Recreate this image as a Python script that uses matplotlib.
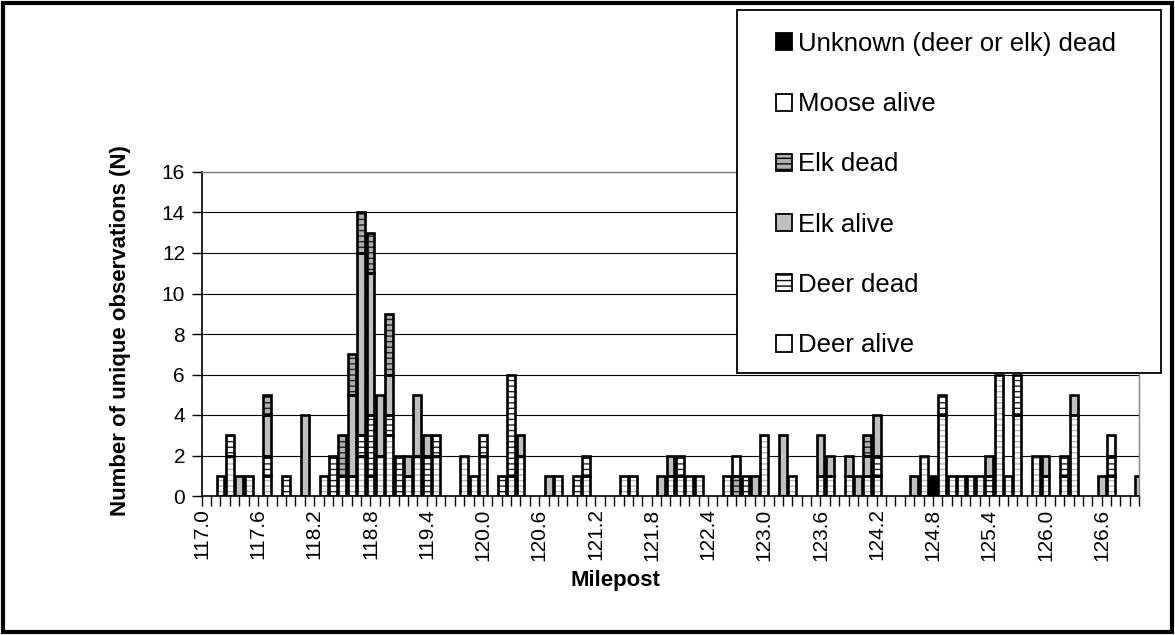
import matplotlib
matplotlib.use("Agg")
import matplotlib.pyplot as plt
from matplotlib.patches import Patch, Rectangle
import numpy as np

plt.rcParams['font.family'] = ['Liberation Sans', 'DejaVu Sans']
plt.rcParams['hatch.linewidth'] = 1.0

# Categories: milepost 117.0 ... 127.0 in 0.1 steps
mileposts = np.round(np.arange(1170, 1271) / 10.0, 1)
tick_labels = ["117.0", "117.6", "118.2", "118.8", "119.4", "120.0", "120.6", "121.2",
               "121.8", "122.4", "123.0", "123.6", "124.2", "124.8", "125.4", "126.0", "126.6"]

deer_alive = [0, 0, 1, 2, 0, 1, 0, 1, 0, 0,
              0, 0, 0, 1, 0, 1, 1, 2, 1, 2,
              3, 0, 1, 2, 0, 2, 0, 0, 2, 1,
              2, 0, 0, 1, 2, 0, 0, 0, 1, 0,
              0, 1, 0, 0, 0, 1, 1, 0, 0, 0,
              1, 1, 1, 1, 0, 0, 1, 0, 0, 0,
              3, 0, 0, 1, 0, 0, 1, 1, 0, 1,
              0, 1, 1, 0, 0, 0, 0, 2, 0, 4,
              1, 1, 1, 1, 0, 6, 1, 4, 0, 2,
              1, 0, 1, 4, 0, 0, 0, 1, 0, 0,
              0]
deer_dead = [0, 0, 0, 1, 0, 0, 0, 1, 0, 1,
             0, 0, 0, 0, 2, 0, 0, 1, 3, 0,
             1, 2, 0, 0, 2, 1, 0, 0, 0, 0,
             1, 0, 1, 5, 0, 0, 0, 0, 0, 0,
             1, 1, 0, 0, 0, 0, 0, 0, 0, 0,
             0, 1, 0, 0, 0, 0, 0, 0, 1, 0,
             0, 0, 0, 0, 0, 0, 0, 0, 0, 0,
             0, 0, 1, 0, 0, 0, 0, 0, 0, 1,
             0, 0, 0, 0, 1, 0, 0, 2, 0, 0,
             0, 0, 1, 0, 0, 0, 0, 1, 0, 0,
             0]
elk_alive = [0, 0, 0, 0, 1, 0, 0, 2, 0, 0,
             0, 4, 0, 0, 0, 0, 4, 9, 7, 3,
             2, 0, 1, 3, 1, 0, 0, 0, 0, 0,
             0, 0, 0, 0, 1, 0, 0, 1, 0, 0,
             0, 0, 0, 0, 0, 0, 0, 0, 0, 1,
             1, 0, 0, 0, 0, 0, 0, 0, 0, 1,
             0, 0, 3, 0, 0, 0, 2, 1, 0, 1,
             1, 1, 2, 0, 0, 0, 1, 0, 0, 0,
             0, 0, 0, 0, 1, 0, 0, 0, 0, 0,
             1, 0, 0, 1, 0, 0, 1, 0, 0, 0,
             1]
elk_dead = [0, 0, 0, 0, 0, 0, 0, 1, 0, 0,
            0, 0, 0, 0, 0, 2, 2, 2, 2, 0,
            3, 0, 0, 0, 0, 0, 0, 0, 0, 0,
            0, 0, 0, 0, 0, 0, 0, 0, 0, 0,
            0, 0, 0, 0, 0, 0, 0, 0, 0, 0,
            0, 0, 0, 0, 0, 0, 0, 1, 0, 0,
            0, 0, 0, 0, 0, 0, 0, 0, 0, 0,
            0, 1, 0, 0, 0, 0, 0, 0, 0, 0,
            0, 0, 0, 0, 0, 0, 0, 0, 0, 0,
            0, 0, 0, 0, 0, 0, 0, 0, 0, 0,
            0]
moose_alive = [0] * 57 + [1] + [0] * 39 + [1] + [0] * 3
unknown_dead = [0] * 78 + [1] + [0] * 22

series = [
    ("Deer alive", deer_alive, "white", "---", "#b4b4b4"),
    ("Deer dead", deer_dead, "white", "---", "#202020"),
    ("Elk alive", elk_alive, "#c0c0c0", None, "#c0c0c0"),
    ("Elk dead", elk_dead, "#b0b0b0", "---", "#202020"),
    ("Moose alive", moose_alive, "white", None, "white"),
    ("Unknown (deer or elk) dead", unknown_dead, "black", None, "black"),
]

W, H = 1175, 635
fig = plt.figure(figsize=(W / 100, H / 100), dpi=100)
x_left, x_right, y_top, y_bot = 201.7, 1139.2, 172.0, 496.0
ax = fig.add_axes([x_left / W, 1 - y_bot / H, (x_right - x_left) / W, (y_bot - y_top) / H])

x = np.arange(len(mileposts))
bottom = np.zeros(len(mileposts))
handles = []
bw = 0.84
for name, vals, face, hatch, hcol in series:
    v = np.array(vals, dtype=float)
    m = v > 0
    ax.bar(x[m], v[m], bw, bottom=bottom[m], color=face, hatch=hatch,
           edgecolor=hcol, linewidth=0, zorder=2)
    ax.bar(x[m], v[m], bw, bottom=bottom[m], fill=False, edgecolor="black",
           linewidth=1.9, zorder=3)
    bottom += v
    handles.append(Patch(facecolor=face, edgecolor="black", linewidth=1.3,
                         hatch=(None if name == "Deer alive" else hatch), label=name))

ax.set_xlim(0, 100)
ax.set_ylim(0, 16)
ax.set_yticks(range(0, 17, 2))
ax.set_yticklabels([str(v) for v in range(0, 17, 2)], fontsize=15)
ax.yaxis.grid(True, color="black", linewidth=0.8, zorder=0)
ax.set_axisbelow(True)

ax.set_xticks(np.arange(0, 101, 6))
ax.set_xticklabels(tick_labels, rotation=90, fontsize=15)
ax.set_xticks(x, minor=True)
ax.tick_params(axis="both", which="both", direction="out", length=7, width=1, color="black")
ax.tick_params(axis="y", pad=5)
ax.tick_params(axis="x", pad=2)

for s in ["left", "bottom"]:
    ax.spines[s].set_color("black")
    ax.spines[s].set_linewidth(1.2)
for s in ["top", "right"]:
    ax.spines[s].set_color("#808080")
    ax.spines[s].set_linewidth(1.0)

ax.set_ylabel("Number of unique observations (N)", fontsize=16, fontweight="bold")
ax.yaxis.set_label_coords(-0.075, 0.512)
ax.set_xlabel("Milepost", fontsize=16, fontweight="bold")
ax.xaxis.set_label_coords(0.441, -0.228)

# Legend box
lx0, lx1, ly0, ly1 = 737, 1161, 10, 373
fig.add_artist(Rectangle((lx0 / W, 1 - ly1 / H), (lx1 - lx0) / W, (ly1 - ly0) / H,
                         transform=fig.transFigure, facecolor="white", edgecolor="black",
                         linewidth=1.3, zorder=10))
leg = fig.legend(handles[::-1], [h.get_label() for h in handles[::-1]],
                 loc="upper left", bbox_to_anchor=(776 / W, 1 - 32 / H),
                 frameon=False, fontsize=18.5, handlelength=0.64, handleheight=0.64,
                 handletextpad=0.2, labelspacing=1.41, borderpad=0, borderaxespad=0)
leg.set_zorder(11)

# Outer chart border
fig.add_artist(Rectangle((3 / W, 3 / H), (W - 6) / W, (H - 6) / H, transform=fig.transFigure,
                         fill=False, edgecolor="black", linewidth=3, zorder=12))

fig.savefig("out.png", dpi=100)
